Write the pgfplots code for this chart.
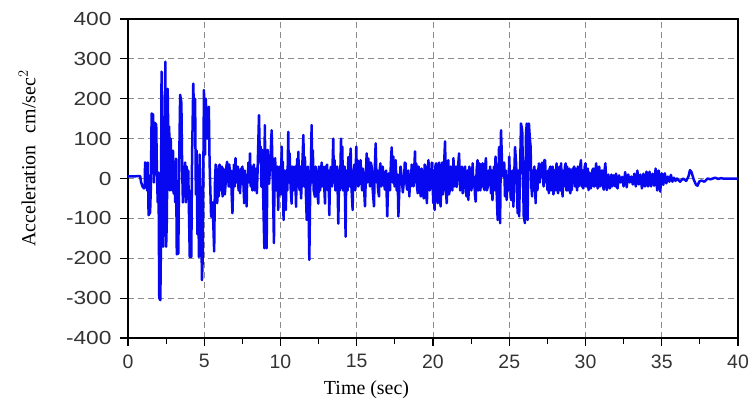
\documentclass[border=0pt]{standalone}
\usepackage{fontspec}
\setmainfont{Liberation Serif}
\newfontfamily\ticksf{Liberation Sans}
\newfontfamily\yticksf[FakeStretch=1.2]{Liberation Sans}
\usepackage{pgfplots}
\pgfplotsset{compat=1.18}
\definecolor{sigblue}{RGB}{8,8,240}
\definecolor{gridgray}{RGB}{140,140,140}
\begin{document}
\begin{tikzpicture}
\useasboundingbox (-128bp,-72bp) rectangle (625bp,338bp);
\begin{axis}[
  at={(0,0)}, anchor=south west,
  scale only axis, width=610bp, height=319bp,
  xmin=0, xmax=40, ymin=-400, ymax=400,
  xtick={0,5,...,40}, ytick={-400,-300,...,400},
  minor xtick={2.5,7.5,...,37.5},
  tick pos=left, tick align=outside,
  major tick length=8bp, minor tick length=6bp,
  every tick/.style={black, line width=1.2bp},
  axis line style={line width=2.4bp},
  grid=major,
  major grid style={gridgray, line width=0.9bp, dash pattern=on 6bp off 4bp},
  /pgf/number format/assume math mode=true,
  xticklabel style={font=\ticksf\fontsize{19.5}{19.5}\selectfont, text=black!80, yshift=-5bp},
  yticklabel style={font=\yticksf\fontsize{19}{19}\selectfont, text=black!80, xshift=-5bp},
  every axis x label/.style={at={(axis description cs:0.391,0)}, yshift=-52bp, anchor=center},
  every axis y label/.style={at={(axis description cs:0,0.5625)}, xshift=-101bp, rotate=90, anchor=center},
  xlabel={\fontsize{20}{20}\selectfont Time (sec)},
  ylabel={\fontsize{20}{20}\selectfont Acceleration\hspace{12bp}cm/sec$^{2}$},
]
\addplot[sigblue, line width=2.5bp, line join=round] coordinates {
(0,5) (0.8,6) (0.85,-8) (0.95,-20) (1.05,-25) (1.1,-15) (1.12,40) (1.2,38) (1.25,-30) (1.3,40)
(1.35,-92) (1.45,-85) (1.5,-20) (1.55,163) (1.65,160) (1.7,-10) (1.75,140) (1.85,135) (1.9,10) (1.95,-60)
(2.0,15) (2.05,-300) (2.12,-305) (2.15,-200) (2.2,268) (2.25,80) (2.3,-171) (2.35,-60) (2.45,293) (2.5,-171)
(2.55,-100) (2.6,225) (2.65,90) (2.7,130) (2.75,-30) (2.8,100) (2.85,20) (2.9,-30) (2.95,70) (3.0,-38)
(3.05,-10) (3.1,-60) (3.15,50) (3.2,-190) (3.3,-188) (3.35,20) (3.42,210) (3.5,190) (3.55,30) (3.6,-60)
(3.65,30) (3.7,-20) (3.75,40) (3.8,-60) (3.85,30) (3.9,-40) (3.95,20) (4.05,-197) (4.12,-30) (4.15,-197)
(4.2,50) (4.28,238) (4.35,120) (4.4,200) (4.45,-40) (4.5,70) (4.55,-140) (4.6,20) (4.65,-197) (4.7,60)
(4.8,-100) (4.85,-255) (4.9,-200) (4.98,222) (5.05,60) (5.1,200) (5.2,100) (5.3,180) (5.35,40) (5.45,-96)
(5.55,-60) (5.65,-183) (5.7,-13) (5.75,35) (5.8,30) (5.85,-62) (5.9,22) (5.95,-45) (6.0,35) (6.05,20)
(6.1,-30) (6.15,30) (6.2,-45) (6.25,25) (6.3,5) (6.35,-40) (6.4,-13) (6.45,30) (6.5,42) (6.55,22)
(6.6,-20) (6.65,35) (6.7,-21) (6.75,20) (6.8,-40) (6.85,-87) (6.9,-5) (6.95,35) (7.0,-20) (7.05,51)
(7.1,-10) (7.15,22) (7.2,30) (7.25,-30) (7.3,20) (7.35,-37) (7.4,25) (7.45,-13) (7.5,30) (7.55,5)
(7.62,-62) (7.66,20) (7.7,-13) (7.78,-70) (7.82,10) (7.85,-4) (7.9,40) (7.95,-10) (8.0,63) (8.05,-20)
(8.1,30) (8.15,-30) (8.2,5) (8.25,35) (8.3,-30) (8.35,-13) (8.4,25) (8.45,-37) (8.5,22) (8.59,159)
(8.65,42) (8.7,80) (8.75,-21) (8.8,72) (8.94,-175) (8.97,134) (9.05,-96) (9.09,-175) (9.15,72) (9.25,-13)
(9.33,42) (9.42,121) (9.5,-13) (9.57,-162) (9.61,20) (9.65,51) (9.7,-30) (9.75,-21) (9.8,30) (9.85,-79)
(9.9,10) (9.95,30) (10.02,-40) (10.08,80) (10.12,-20) (10.15,42) (10.2,-104) (10.25,20) (10.3,-13) (10.35,-79)
(10.4,21) (10.45,-30) (10.51,117) (10.55,-10) (10.6,63) (10.66,-20) (10.73,-63) (10.77,30) (10.8,29) (10.85,-30)
(10.9,-13) (10.95,30) (11.02,-71) (11.06,20) (11.1,50) (11.14,-20) (11.17,67) (11.21,-10) (11.25,-29) (11.3,30)
(11.35,-50) (11.42,20) (11.5,109) (11.55,-20) (11.6,54) (11.66,-30) (11.72,-104) (11.76,10) (11.8,30) (11.89,-204)
(11.95,-20) (12.0,40) (12.04,134) (12.08,-10) (12.12,71) (12.18,-30) (12.26,-46) (12.3,30) (12.35,13) (12.4,-30)
(12.48,-63) (12.52,30) (12.55,21) (12.6,-30) (12.65,13) (12.7,40) (12.75,-20) (12.8,20) (12.85,29) (12.88,-30)
(12.92,-63) (12.96,30) (13.0,10) (13.05,35) (13.1,-30) (13.15,20) (13.2,-92) (13.25,10) (13.3,29) (13.38,-20)
(13.46,100) (13.5,-10) (13.55,46) (13.6,-30) (13.65,-10) (13.72,30) (13.79,-113) (13.85,20) (13.9,-30) (13.97,100)
(14.0,-10) (14.05,80) (14.1,-30) (14.15,-20) (14.2,30) (14.27,-146) (14.31,20) (14.35,10) (14.4,-30) (14.45,54)
(14.5,-20) (14.55,20) (14.6,75) (14.65,-20) (14.73,-79) (14.77,20) (14.8,4) (14.85,35) (14.9,-30) (14.97,80)
(15.01,-10) (15.05,46) (15.1,-20) (15.15,-13) (15.2,30) (15.25,46) (15.3,0) (15.35,-30) (15.4,25) (15.45,10)
(15.5,-40) (15.54,-70) (15.6,10) (15.65,63) (15.7,-10) (15.76,50) (15.82,10) (15.87,-20) (15.92,40) (15.98,30)
(16.05,-30) (16.13,-70) (16.18,20) (16.24,88) (16.3,-10) (16.35,20) (16.4,-30) (16.46,-45) (16.5,20) (16.55,38)
(16.62,-20) (16.7,30) (16.78,-10) (16.85,-28) (16.92,20) (17.0,-95) (17.05,-20) (17.1,13) (17.18,-30) (17.24,40)
(17.29,78) (17.35,-10) (17.4,55) (17.48,-20) (17.55,46) (17.62,-30) (17.68,10) (17.73,-95) (17.8,-20) (17.87,30)
(17.95,4) (18.02,-35) (18.1,-4) (18.15,40) (18.2,38) (18.25,-10) (18.3,-28) (18.38,20) (18.45,-45) (18.5,10)
(18.55,-20) (18.6,35) (18.65,20) (18.72,-20) (18.82,68) (18.86,-10) (18.9,38) (18.95,-20) (19.0,-37) (19.05,30)
(19.1,20) (19.15,-30) (19.2,-45) (19.25,25) (19.3,5) (19.35,-40) (19.4,-50) (19.45,35) (19.5,30) (19.55,-30)
(19.6,-62) (19.65,20) (19.7,46) (19.78,-30) (19.85,-20) (19.92,40) (20.02,-62) (20.05,20) (20.1,-79) (20.15,30)
(20.2,38) (20.25,-40) (20.3,-62) (20.35,30) (20.4,40) (20.45,-50) (20.5,-70) (20.55,20) (20.6,40) (20.65,-40)
(20.7,10) (20.79,93) (20.85,-30) (20.9,-62) (20.95,20) (21.0,46) (21.05,-40) (21.1,-29) (21.15,30) (21.2,10)
(21.27,-30) (21.34,51) (21.4,-20) (21.45,-4) (21.5,30) (21.55,-21) (21.62,20) (21.71,63) (21.78,-30) (21.85,-4)
(21.9,30) (21.95,-37) (22.02,10) (22.1,30) (22.15,-30) (22.2,-45) (22.26,20) (22.32,-54) (22.38,30) (22.45,13)
(22.52,-30) (22.6,38) (22.65,-20) (22.7,4) (22.75,-40) (22.8,-58) (22.86,20) (22.92,46) (22.98,-30) (23.05,38)
(23.1,-30) (23.15,-12) (23.2,30) (23.25,38) (23.3,-20) (23.38,-29) (23.42,30) (23.47,51) (23.53,-30) (23.6,-20)
(23.65,20) (23.7,-12) (23.75,30) (23.8,-37) (23.85,20) (23.9,-54) (23.95,10) (24.0,30) (24.05,-30) (24.1,55)
(24.17,-30) (24.24,-104) (24.33,79) (24.4,-112) (24.46,121) (24.55,13) (24.62,4) (24.67,40) (24.72,-45) (24.78,20)
(24.83,-54) (24.9,4) (24.95,-30) (25.0,55) (25.06,-20) (25.12,-54) (25.2,20) (25.27,-71) (25.38,79) (25.45,38)
(25.55,-87) (25.6,20) (25.65,-95) (25.77,138) (25.85,121) (25.95,-95) (26.03,-112) (26.1,114) (26.15,138) (26.2,-104)
(26.29,138) (26.35,100) (26.4,80) (26.45,-21) (26.5,-45) (26.55,20) (26.6,-4) (26.65,30) (26.73,-62) (26.77,20)
(26.8,13) (26.85,-29) (26.9,20) (26.95,38) (27.0,-10) (27.05,30) (27.1,4) (27.15,40) (27.2,21) (27.25,-20)
(27.3,46) (27.35,46) (27.4,-10) (27.45,13) (27.5,-29) (27.55,20) (27.6,-37) (27.65,25) (27.7,30) (27.75,-30)
(27.8,-10) (27.85,30) (27.9,-40) (27.95,10) (28.0,21) (28.05,-30) (28.1,38) (28.15,-20) (28.2,-37) (28.25,25)
(28.3,30) (28.35,-30) (28.4,38) (28.45,-20) (28.5,-45) (28.55,20) (28.6,-20) (28.65,30) (28.7,38) (28.75,-30)
(28.8,30) (28.85,-30) (28.9,4) (28.95,25) (29.0,-37) (29.05,20) (29.1,-29) (29.15,25) (29.2,4) (29.25,30)
(29.3,-20) (29.35,25) (29.4,-10) (29.45,-30) (29.5,30) (29.55,-20) (29.6,-5) (29.65,30) (29.7,46) (29.75,-20)
(29.8,21) (29.85,-25) (29.9,-13) (29.95,30) (30.0,38) (30.05,-20) (30.1,4) (30.15,25) (30.2,-29) (30.25,15)
(30.3,4) (30.35,-25) (30.4,-10) (30.45,20) (30.5,25) (30.55,-20) (30.6,-20) (30.65,20) (30.7,38) (30.75,-10)
(30.8,-25) (30.85,15) (30.9,30) (30.95,-20) (31.0,-15) (31.05,20) (31.1,20) (31.15,-20) (31.2,-28) (31.25,20)
(31.3,38) (31.4,-29) (31.5,10) (31.6,-25) (31.7,10) (31.75,-20) (31.85,8) (31.95,-20) (32.0,12) (32.1,-25)
(32.2,8) (32.3,-10) (32.4,4) (32.5,-20) (32.6,16) (32.7,-22) (32.8,10) (32.9,-10) (33.0,5) (33.1,-15)
(33.2,12) (33.3,-20) (33.4,20) (33.5,-15) (33.6,10) (33.7,-25) (33.8,12) (33.9,-20) (34.0,17) (34.1,-20)
(34.2,17) (34.3,-20) (34.4,12) (34.5,-18) (34.6,25) (34.7,-30) (34.8,20) (34.9,-33) (35.0,13) (35.1,-16)
(35.2,13) (35.3,-12) (35.4,5) (35.5,-8) (35.6,9) (35.7,-8) (35.8,2) (35.9,-6) (36.0,0) (36.2,-8)
(36.4,0) (36.6,-6) (36.75,5) (36.85,21) (36.95,16) (37.1,-3) (37.25,-16) (37.35,-18) (37.45,-8) (37.6,-5)
(37.8,-8) (38.0,0) (38.2,-2) (38.5,2) (38.7,-1) (38.9,1) (39.0,0) (40,0)
};
\end{axis}
\end{tikzpicture}
\end{document}
